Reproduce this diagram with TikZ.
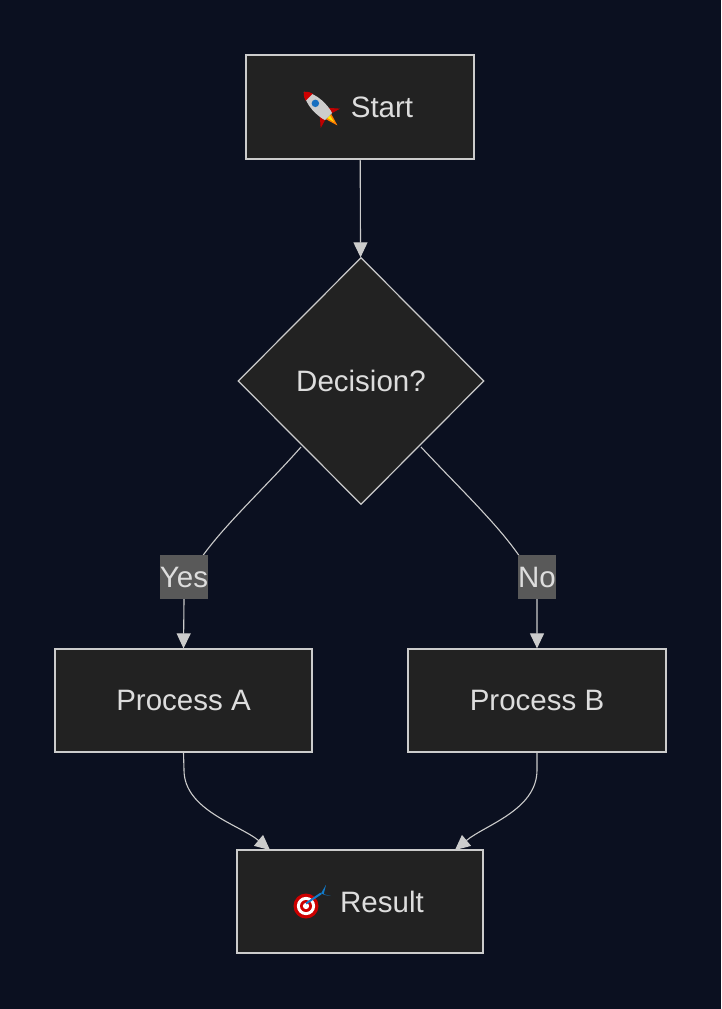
\documentclass[tikz,border=0pt]{standalone}
\usepackage{fontspec}
\setmainfont{Liberation Sans}
\usetikzlibrary{shapes.geometric,arrows.meta}
\definecolor{bg}{HTML}{0B1020}
\definecolor{nfill}{HTML}{222222}
\definecolor{nline}{HTML}{CCCCCC}
\definecolor{ntext}{HTML}{DDDDDD}
\definecolor{lbl}{HTML}{595959}
\begin{document}
\begin{tikzpicture}[x=1pt,y=-1pt,
  box/.style={draw=nline,fill=nfill,line width=1.2pt,text=ntext,font=\fontsize{29.5}{32}\selectfont,inner sep=0},
  edge/.style={draw=nline,line width=1.1pt,-{Triangle[length=15pt,width=14pt]}},
  elbl/.style={fill=lbl,text=ntext,font=\fontsize{29.5}{32}\selectfont,inner xsep=0pt,minimum height=44pt}]
\fill[bg] (0,0) rectangle (721,1009);
\useasboundingbox (0,0) rectangle (721,1009);
\node[box,minimum width=228pt,minimum height=104pt] (start) at (360,107) {\hspace*{44pt}Start};
\node[box,diamond,minimum width=246pt,minimum height=247pt] (dec) at (361,381) {Decision?};
\node[box,minimum width=257pt,minimum height=103pt] (pa) at (183.5,700.5) {Process A};
\node[box,minimum width=258pt,minimum height=103pt] (pb) at (537,700.5) {Process B};
\node[box,minimum width=246pt,minimum height=103pt] (res) at (360,901.5) {\hspace*{44pt}Result};
% rocket icon
\begin{scope}[shift={(318,106)},rotate=45,scale=1.25]
  \fill[red!75!black] (-4,6) -- (-11,14) -- (-4,12) -- cycle;
  \fill[red!75!black] (4,6) -- (11,14) -- (4,12) -- cycle;
  \fill[orange] (-3,12) -- (0,22) -- (3,12) -- cycle;
  \fill[yellow!90!orange] (-1.5,12) -- (0,18) -- (1.5,12) -- cycle;
  \fill[gray!40] (0,-16) .. controls (7,-8) and (6,6) .. (4,12) -- (-4,12) .. controls (-6,6) and (-7,-8) .. (0,-16);
  \fill[red!80!black] (0,-16) .. controls (3,-13) .. (4,-10) -- (-4,-10) .. controls (-3,-13) .. (0,-16);
  \fill[cyan!50!blue] (0,-3) circle (3);
\end{scope}
% target icon
\begin{scope}[shift={(306,906)},scale=1.25]
  \fill[red!80!black] (0,0) circle (10);
  \fill[white] (0,0) circle (7.3);
  \fill[red!80!black] (0,0) circle (4.8);
  \fill[white] (0,0) circle (2.5);
  \draw[cyan!60!blue,line width=2pt] (0,-2) -- (12,-10);
  \fill[cyan!60!blue] (12,-10) -- (16,-17) -- (14,-9) -- (20,-8) -- cycle;
\end{scope}
\coordinate (yl) at (184,577);
\coordinate (nl) at (537,577);
\draw[edge] (start) -- (dec);
\draw[edge] (301,447) .. controls (250,505) and (184,560) .. (184,600) -- (pa.north);
\draw[edge] (421,447) .. controls (475,505) and (537,560) .. (537,600) -- (pb.north);
\node[elbl] at (yl) {Yes};
\node[elbl] at (nl) {No};
\draw[edge] (pa.south) -- (184,770) .. controls (184,810) and (240,825) .. (270,850);
\draw[edge] (pb.south) -- (537,770) .. controls (537,810) and (485,825) .. (455,850);
\end{tikzpicture}
\end{document}
